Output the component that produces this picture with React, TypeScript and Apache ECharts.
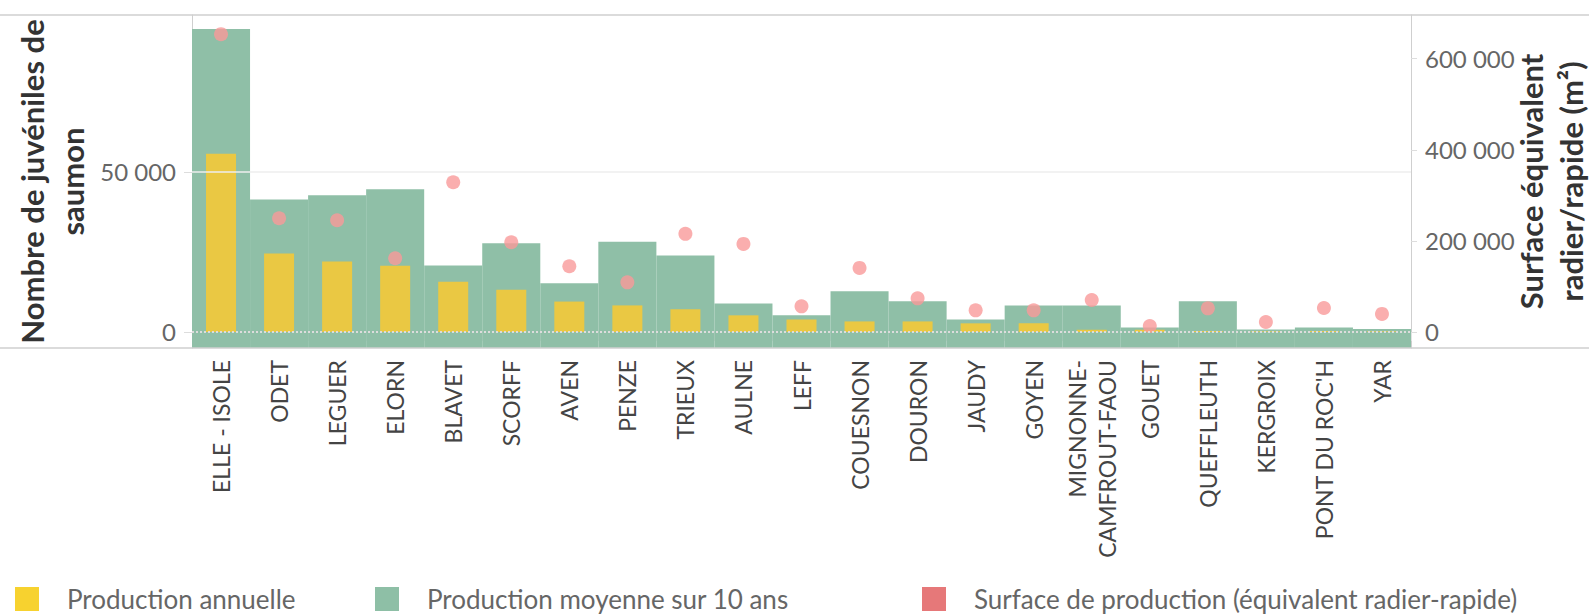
import React, { useEffect, useRef } from "react";
import * as echarts from "echarts";

const categories = [
  "ELLE - ISOLE", "ODET", "LEGUER", "ELORN", "BLAVET", "SCORFF", "AVEN", "PENZE",
  "TRIEUX", "AULNE", "LEFF", "COUESNON", "DOURON", "JAUDY", "GOYEN",
  "MIGNONNE-\nCAMFROUT-FAOU", "GOUET", "QUEFFLEUTH", "KERGROIX", "PONT DU ROC'H", "YAR",
];
const annualProduction = [
  55700, 24500, 22000, 20700, 15700, 13200, 9500, 8300, 7100, 5200, 3900, 3300, 3300,
  2700, 2700, 700, 700, 300, 200, 300, 200,
];
const meanProduction10y = [
  94600, 41400, 42700, 44600, 20800, 27700, 15200, 28200, 23900, 8900, 5200, 12700, 9600,
  3900, 8300, 8300, 1400, 9600, 800, 1400, 900,
];
const productionSurface = [
  654000, 249700, 245300, 161800, 328800, 196900, 144200, 109000, 215400, 193400, 56300,
  140700, 73900, 47500, 47500, 70300, 13200, 51900, 22000, 52700, 39600,
];
const leftTicks = [0, 50000];
const rightTicks = [0, 200000, 400000, 600000];

const fmt = (v: number) => String(v).replace(/\B(?=(\d{3})+(?!\d))/g, " ");

const FONT = "Lato, 'Open Sans', sans-serif";
const YELLOW = "#EAC843";
const GREEN = "#8FBFA7";
const PINK = "#F99A9A";

export default function App() {
  const ref = useRef<HTMLDivElement>(null);
  useEffect(() => {
    if (!ref.current) return;
    const chart = echarts.init(ref.current, undefined, { renderer: "svg" });
    const legendBase = {
      top: 581,
      itemWidth: 24,
      itemHeight: 24,
      itemGap: 0,
      selectedMode: false,
      textStyle: { fontSize: 26, color: "#666", fontFamily: FONT, padding: [0, 0, 0, 23] },
    };
    chart.setOption({
      animation: false,
      textStyle: { fontFamily: FONT },
      grid: { left: 192, right: 178, top: 15, bottom: 266, containLabel: false, outerBoundsMode: "none" },
      legend: [
        { ...legendBase, left: 10, data: [{ name: "Production annuelle", icon: "rect", itemStyle: { color: "#F7D22F" } }] },
        { ...legendBase, left: 370, data: [{ name: "Production moyenne sur 10 ans", icon: "rect", itemStyle: { color: "#8EBFA6" } }] },
        { ...legendBase, left: 917, data: [{ name: "Surface de production (équivalent radier-rapide)", icon: "rect", itemStyle: { color: "#E05658" } }] },
      ],
      graphic: [
        { type: "line", shape: { x1: 0, y1: 15, x2: 1589, y2: 15 }, style: { stroke: "#cfcfcf", lineWidth: 1.5 }, silent: true },
        { type: "line", shape: { x1: 0, y1: 348, x2: 1589, y2: 348 }, style: { stroke: "#cfcfcf", lineWidth: 1.5 }, silent: true, z: 10 },
      ],
      xAxis: {
        type: "category",
        data: categories,
        axisLine: { show: false },
        axisTick: { show: true, length: 9, lineStyle: { color: "#e2e2e2" } },
        axisLabel: {
          interval: 0,
          rotate: 90,
          margin: 12,
          fontSize: 23,
          lineHeight: 30,
          color: "#444",
          fontFamily: FONT,
        },
        splitLine: { show: false },
      },
      yAxis: [
        {
          type: "value",
          position: "left",
          min: -5000,
          max: 99000,
          axisLine: { show: true, lineStyle: { color: "#cfcfcf" } },
          axisTick: { show: true, length: 8, customValues: leftTicks, lineStyle: { color: "#dddddd" } },
          axisLabel: { customValues: leftTicks, formatter: fmt, fontSize: 24, color: "#666", margin: 16, fontFamily: FONT },
          splitLine: { show: false },
          name: "Nombre de juvéniles de\nsaumon",
          nameLocation: "middle",
          nameRotate: 90,
          nameGap: 100,
          nameMoveOverlap: false,
          nameTextStyle: { fontSize: 31, fontWeight: "bold", color: "#333", lineHeight: 40, fontFamily: FONT },
        },
        {
          type: "value",
          position: "right",
          min: -35200,
          max: 696000,
          axisLine: { show: true, lineStyle: { color: "#cfcfcf" } },
          axisTick: { show: true, length: 6, customValues: rightTicks, lineStyle: { color: "#dddddd" } },
          axisLabel: { customValues: rightTicks, formatter: fmt, fontSize: 24, color: "#666", margin: 14, fontFamily: FONT },
          splitLine: { show: false },
          name: "Surface équivalent\nradier/rapide (m²)",
          nameLocation: "middle",
          nameRotate: 90,
          nameGap: 100,
          nameMoveOverlap: false,
          nameTextStyle: { fontSize: 31, fontWeight: "bold", color: "#333", lineHeight: 40, fontFamily: FONT },
        },
      ],
      series: [
        {
          type: "custom",
          name: "Production moyenne sur 10 ans",
          yAxisIndex: 0,
          z: 1,
          itemStyle: { color: GREEN },
          encode: { x: 0, y: 1 },
          data: meanProduction10y.map((v, i) => [i, v]),
          renderItem: (params: any, api: any) => {
            const idx = api.value(0);
            const v = api.value(1);
            const top = api.coord([idx, v]);
            const w = api.size([1, 0])[0];
            const cs = params.coordSys;
            const bottom = cs.y + cs.height;
            return {
              type: "rect",
              shape: { x: top[0] - w / 2, y: top[1], width: w, height: bottom - top[1] },
              style: { fill: GREEN },
            };
          },
        },
        {
          type: "bar",
          name: "Production annuelle",
          yAxisIndex: 0,
          z: 2,
          barWidth: 30,
          itemStyle: { color: YELLOW },
          data: annualProduction,
          markLine: {
            silent: true,
            symbol: "none",
            label: { show: false },
            data: [
              { yAxis: 50000, lineStyle: { color: "#eeeeee", type: "solid", width: 1.5 } },
              { yAxis: 0, lineStyle: { color: "#dcdcdc", type: "dotted", width: 2 } },
            ],
          },
        },
        {
          type: "scatter",
          name: "Surface de production (équivalent radier-rapide)",
          yAxisIndex: 1,
          z: 3,
          symbolSize: 14,
          itemStyle: { color: PINK },
          data: productionSurface,
        },
      ],
    });
    return () => chart.dispose();
  }, []);
  return (
    <div
      ref={ref}
      style={{ position: "absolute", left: 0, top: 0, width: 1589, height: 614 }}
    />
  );
}
